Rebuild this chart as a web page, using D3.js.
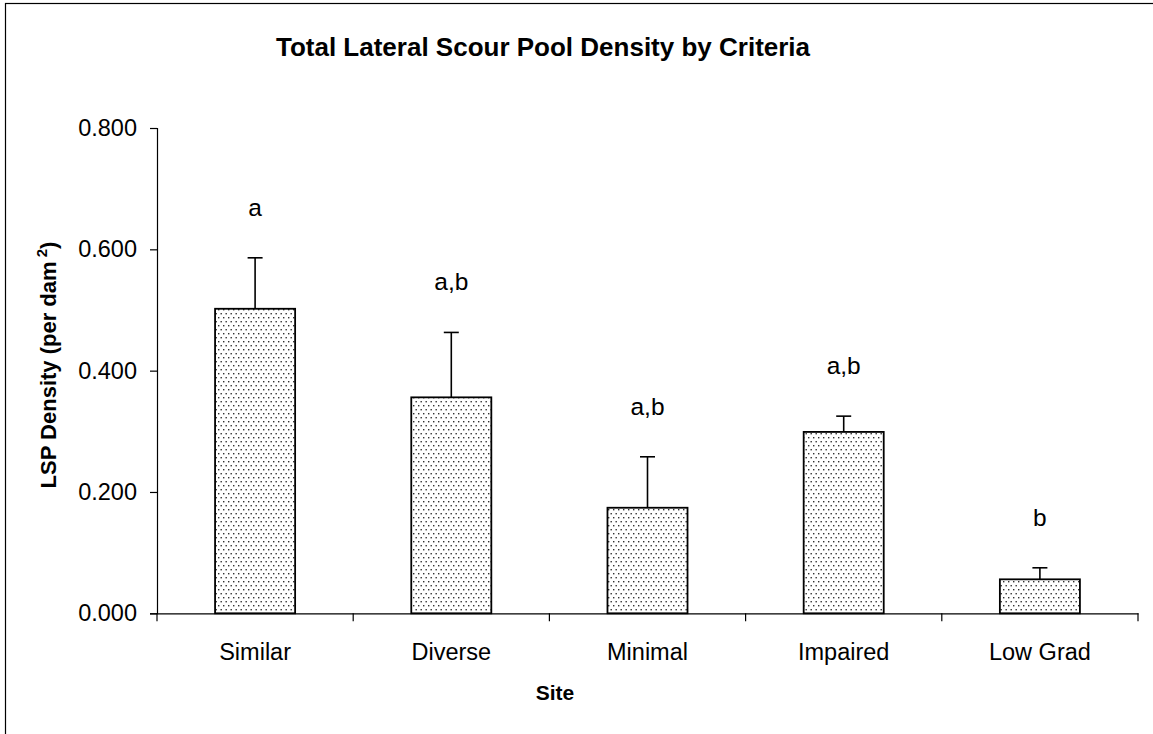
<!DOCTYPE html>
<html>
<head>
<meta charset="utf-8">
<script src="https://cdn.jsdelivr.net/npm/d3@7"></script>
<style>
  html, body { margin: 0; padding: 0; background: #fff; }
  svg { display: block; font-family: "Liberation Sans", Arial, sans-serif; }
</style>
</head>
<body>
<svg id="chart" width="1153" height="734"></svg>
<script>
// ---- data ----
const categories = ["Similar", "Diverse", "Minimal", "Impaired", "Low Grad"];
const means      = [0.502, 0.356, 0.174, 0.299, 0.056];
const errors     = [0.084, 0.107, 0.084, 0.026, 0.019];
const letters    = ["a", "a,b", "a,b", "a,b", "b"];
const yTicks     = [0, 0.2, 0.4, 0.6, 0.8];

const svg = d3.select("#chart");

// chart border
svg.append("rect")
  .attr("x", 5.5).attr("y", 3.5)
  .attr("width", 1200).attr("height", 800)
  .attr("fill", "#fff").attr("stroke", "#000").attr("stroke-width", 1.2);

// dotted pattern
const defs = svg.append("defs");
const pat = defs.append("pattern")
  .attr("id", "dots").attr("patternUnits", "userSpaceOnUse")
  .attr("width", 5).attr("height", 8);
pat.append("rect").attr("width", 5).attr("height", 8).attr("fill", "#fff");
pat.append("rect").attr("x", 0.5).attr("y", 1).attr("width", 1.4).attr("height", 1.4).attr("fill", "#333");
pat.append("rect").attr("x", 3).attr("y", 5).attr("width", 1.4).attr("height", 1.4).attr("fill", "#333");

const plotLeft = 157, plotRight = 1138, plotTop = 128, plotBottom = 613.3;

const x = d3.scaleBand().domain(categories).range([plotLeft, plotRight]).paddingInner(0.592).paddingOuter(0.296);
const xBand = d3.scaleBand().domain(categories).range([plotLeft, plotRight]);
const y = d3.scaleLinear().domain([0, 0.8]).range([plotBottom, plotTop]);

// Title
svg.append("text")
  .attr("x", 543).attr("y", 56)
  .attr("text-anchor", "middle")
  .attr("font-size", 26).attr("font-weight", "bold")
  .text("Total Lateral Scour Pool Density by Criteria");

// Y axis
const yAxis = d3.axisLeft(y).tickValues(yTicks).tickFormat(d3.format(".3f")).tickSizeOuter(0).tickSize(7).tickPadding(13);
const gy = svg.append("g").attr("transform", `translate(${plotLeft},0)`).call(yAxis);
gy.selectAll("text").attr("font-size", 23.5).attr("font-family", "Liberation Sans, Arial, sans-serif").attr("fill", "#000");
gy.selectAll("line").attr("stroke", "#000").attr("stroke-width", 1.2);
gy.select(".domain").attr("stroke", "#000").attr("stroke-width", 1.2);

// Bars
svg.append("g").selectAll("rect")
  .data(categories)
  .join("rect")
  .attr("x", d => x(d))
  .attr("width", x.bandwidth())
  .attr("y", (d, i) => y(means[i]))
  .attr("height", (d, i) => y(0) - y(means[i]))
  .attr("fill", "url(#dots)")
  .attr("stroke", "#000").attr("stroke-width", 1.8);

// Error bars (upper only)
const eg = svg.append("g").attr("stroke", "#000").attr("stroke-width", 1.6);
categories.forEach((c, i) => {
  const cx = x(c) + x.bandwidth() / 2;
  eg.append("line").attr("x1", cx).attr("x2", cx)
    .attr("y1", y(means[i])).attr("y2", y(means[i] + errors[i]));
  eg.append("line").attr("x1", cx - 7.5).attr("x2", cx + 7.5)
    .attr("y1", y(means[i] + errors[i])).attr("y2", y(means[i] + errors[i]));
});

// Significance letters
svg.append("g").selectAll("text")
  .data(categories)
  .join("text")
  .attr("x", d => x(d) + x.bandwidth() / 2)
  .attr("y", (d, i) => y(means[i] + errors[i]) - 42)
  .attr("text-anchor", "middle")
  .attr("font-size", 24.5)
  .text((d, i) => letters[i]);

// X axis
const xAxis = d3.axisBottom(xBand).tickSize(0).tickPadding(30).tickSizeOuter(0);
const gx = svg.append("g").attr("transform", `translate(0,${plotBottom})`).call(xAxis);
gx.selectAll("text").attr("font-size", 23.5).attr("font-family", "Liberation Sans, Arial, sans-serif").attr("fill", "#000");
gx.select(".domain").attr("stroke", "#000").attr("stroke-width", 1.2);
// boundary ticks
const bounds = categories.map(c => xBand(c)).concat([xBand.range()[1]]);
gx.selectAll("line.bound").data(bounds).join("line")
  .attr("class", "bound")
  .attr("x1", d => d).attr("x2", d => d)
  .attr("y1", 0).attr("y2", 8)
  .attr("stroke", "#000").attr("stroke-width", 1.2);

// Axis titles
svg.append("text")
  .attr("x", 555).attr("y", 700)
  .attr("text-anchor", "middle")
  .attr("font-size", 21).attr("font-weight", "bold")
  .text("Site");

const yl = svg.append("text")
  .attr("transform", "translate(56,365) rotate(-90)")
  .attr("text-anchor", "middle")
  .attr("font-size", 22).attr("font-weight", "bold");
yl.append("tspan").text("LSP Density (per dam");
yl.append("tspan").attr("font-size", 15).attr("dy", -9).text(" 2");
yl.append("tspan").attr("dy", 9).text(")");
</script>
</body>
</html>
